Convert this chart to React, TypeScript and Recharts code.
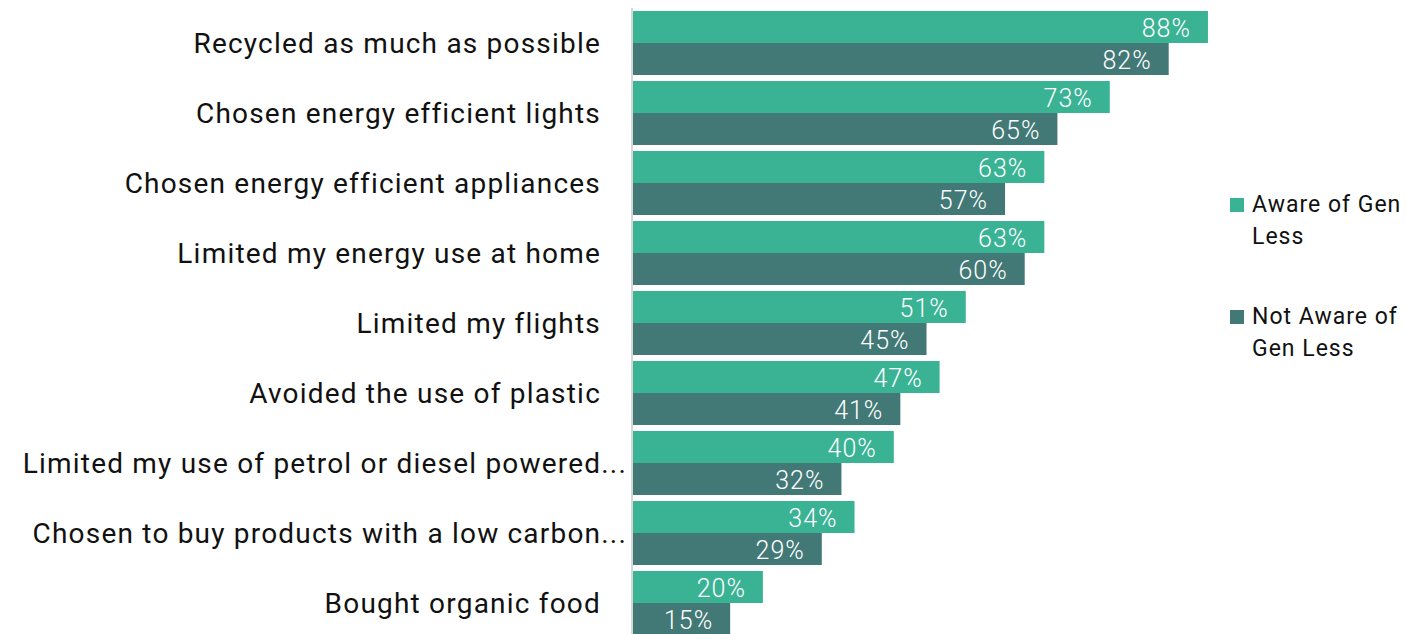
import React from "react";
import { BarChart, Bar, XAxis, YAxis, Legend, LabelList } from "recharts";

const categories = [
  "Recycled as much as possible",
  "Chosen energy efficient lights",
  "Chosen energy efficient appliances",
  "Limited my energy use at home",
  "Limited my flights",
  "Avoided the use of plastic",
  "Limited my use of petrol or diesel powered...",
  "Chosen to buy products with a low carbon...",
  "Bought organic food",
];
const awareValues = [88, 73, 63, 63, 51, 47, 40, 34, 20];
const notAwareValues = [82, 65, 57, 60, 45, 41, 32, 29, 15];
const seriesNames = ["Aware of Gen Less", "Not Aware of Gen Less"];
const seriesLegendLines = [
  ["Aware of Gen", "Less"],
  ["Not Aware of", "Gen Less"],
];
const colors = ["#3AB394", "#427976"];

const data = categories.map((c, i) => ({
  name: c,
  aware: awareValues[i],
  notAware: notAwareValues[i],
}));

const FONT = "Roboto, 'Noto Sans', sans-serif";

const CategoryTick = (props: any) => {
  const { x, y, payload } = props;
  const text: string = payload.value;
  const truncated = text.endsWith("...");
  return (
    <text
      x={truncated ? x - 5 : x - 31}
      y={y}
      textAnchor="end"
      dominantBaseline="central"
      fontFamily={FONT}
      fontSize={28}
      letterSpacing={1.2}
      fill="#111"
    >
      {text}
    </text>
  );
};

const ValueLabel = (props: any) => {
  const { x, y, width, height, value } = props;
  return (
    <text
      x={x + width - 17}
      y={y + height / 2 + 1}
      textAnchor="end"
      dominantBaseline="central"
      fontFamily={FONT}
      fontWeight={300}
      fontSize={25}
      letterSpacing={1}
      fill="#ffffff"
    >
      {value}%
    </text>
  );
};

const LegendContent = () => (
  <div style={{ fontFamily: FONT, fontSize: 23, letterSpacing: 1, color: "#111", lineHeight: "32px" }}>
    {seriesLegendLines.map((lines, i) => (
      <div key={seriesNames[i]} style={{ position: "relative", paddingLeft: 24, marginBottom: i === 0 ? 48 : 0 }}>
        <span
          style={{
            position: "absolute",
            left: 2,
            top: 9,
            width: 14,
            height: 14,
            background: colors[i],
          }}
        />
        {lines.map((l) => (
          <div key={l}>{l}</div>
        ))}
      </div>
    ))}
  </div>
);

export default function App() {
  return (
    <div style={{ position: "absolute", left: 0, top: 0, width: 1406, height: 634, overflow: "hidden", background: "#fff" }}>
      <BarChart
        width={1406}
        height={638}
        data={data}
        layout="vertical"
        margin={{ top: 8, right: 119.5, bottom: 0, left: 0 }}
        barCategoryGap={3}
        barGap={0}
      >
        <XAxis type="number" domain={[0, 100]} hide />
        <YAxis
          type="category"
          dataKey="name"
          width={632}
          tick={<CategoryTick />}
          tickLine={false}
          tickSize={0}
          tickMargin={0}
          axisLine={{ stroke: "#d6d6d6", strokeWidth: 2 }}
          interval={0}
        />
        <Legend
          layout="horizontal"
          verticalAlign="middle"
          align="center"
          content={<LegendContent />}
          wrapperStyle={{ position: "absolute", left: 1228, top: 189, width: 178, height: 180 }}
        />
        <Bar dataKey="aware" name={seriesNames[0]} fill={colors[0]} isAnimationActive={false}>
          <LabelList dataKey="aware" content={<ValueLabel />} />
        </Bar>
        <Bar dataKey="notAware" name={seriesNames[1]} fill={colors[1]} isAnimationActive={false}>
          <LabelList dataKey="notAware" content={<ValueLabel />} />
        </Bar>
      </BarChart>
    </div>
  );
}
